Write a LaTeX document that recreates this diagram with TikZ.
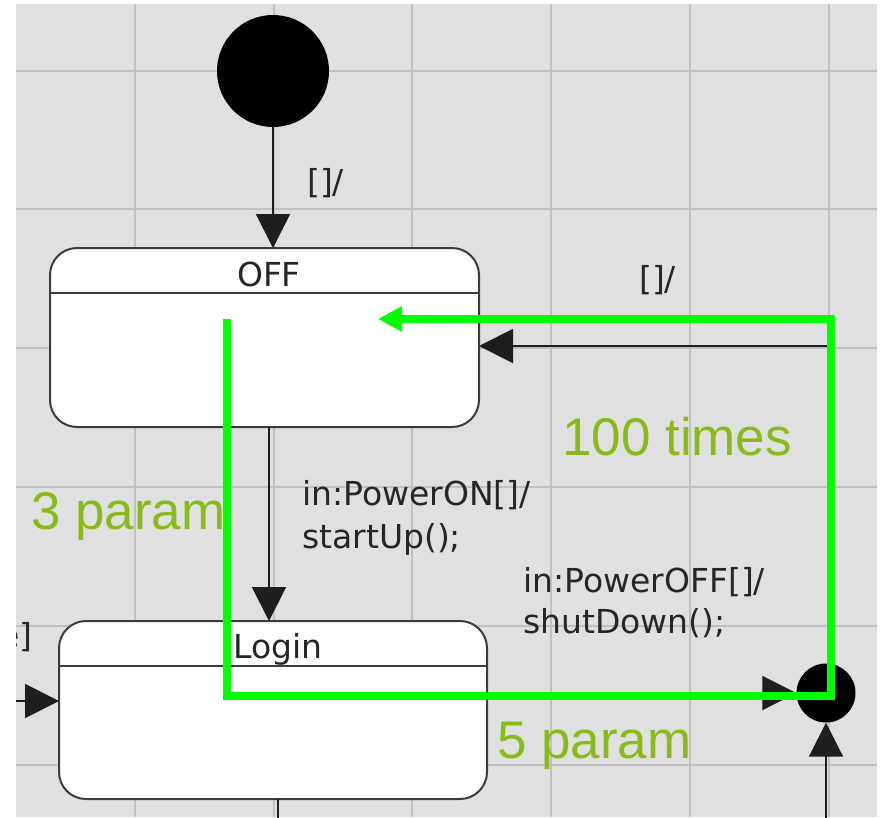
\documentclass[tikz,border=0pt]{standalone}
\usepackage{fontspec}
\setmainfont{DejaVu Sans}
\newfontfamily\notefont{Liberation Sans}
\usetikzlibrary{arrows.meta}
\definecolor{canvas}{RGB}{224,224,224}
\definecolor{gridline}{RGB}{192,192,192}
\definecolor{edge}{RGB}{30,30,30}
\definecolor{boxline}{RGB}{60,60,60}
\definecolor{trace}{RGB}{0,255,0}
\definecolor{notegreen}{RGB}{138,186,26}
\tikzset{
  statebox/.style={draw=boxline, line width=2pt, fill=white, rounded corners=27pt, inner sep=0pt},
  dot/.style={circle, fill=black, inner sep=0pt},
  trans/.style={draw=edge, line width=2pt, -{Triangle[length=34pt,width=34pt]}},
  plainline/.style={draw=edge, line width=2pt},
  lbl/.style={inner sep=0pt, font=\fontsize{33}{40}\selectfont, text=black!85},
  note/.style={inner sep=0pt, font=\notefont\fontsize{53}{62}\selectfont, text=notegreen},
  tracepath/.style={draw=trace, line width=8pt, line join=miter, -{Triangle[length=24pt,width=24pt]}}
}
\begin{document}
\begin{tikzpicture}[x=1pt,y=-1pt]
  \useasboundingbox (0,0) rectangle (881,817);
  \fill[white] (0,0) rectangle (881,817);
  \begin{scope}
    \clip (16,4) rectangle (877,817);
    \fill[canvas] (16,4) rectangle (877,817);
    % background grid
    \foreach \gx in {135,274,412,551,690,829}
      \draw[gridline, line width=1.6pt] (\gx,4) -- (\gx,817);
    \foreach \gy in {71,209,348,487,626,765}
      \draw[gridline, line width=1.6pt] (16,\gy) -- (877,\gy);

    % states
    \node[statebox, minimum width=429pt, minimum height=179pt] (off) at (264.5,337.5) {};
    \draw[boxline, line width=2pt] (50,293) -- (479,293);
    \node[lbl, anchor=base] (offname) at (269,286) {OFF};

    \node[statebox, minimum width=428pt, minimum height=178pt] (login) at (273,710) {};
    \draw[boxline, line width=2pt] (59,666) -- (487,666);
    \node[lbl, anchor=base west] (loginname) at (233,658) {Login};

    % pseudo states
    \node[dot, minimum size=112pt] (init) at (273,71) {};
    \node[dot, minimum size=59pt] (junc) at (826,693) {};

    % connector end points
    \coordinate (offin) at (273,248);
    \coordinate (offout) at (269,427);
    \coordinate (loginin) at (269,621);
    \coordinate (loginout) at (487,693);
    \coordinate (juncup) at (830,670);
    \coordinate (bend) at (830,346);
    \coordinate (offret) at (479,346);
    \coordinate (leftsrc) at (10,701);
    \coordinate (loginleft) at (59,701);
    \coordinate (bottomsrc) at (826,830);
    \coordinate (loginbottom) at (278,799);
    \coordinate (downend) at (278,830);

    % transitions
    \draw[trans] (init) -- (offin);
    \draw[trans] (offout) -- (loginin);
    \draw[trans] (loginout) -- (junc.west);
    \draw[trans] (juncup) -- (bend) -- (offret);
    \draw[trans] (bottomsrc) -- (junc.south);
    \draw[trans] (leftsrc) -- (loginleft);
    \draw[plainline] (loginbottom) -- (downend);

    % transition labels
    \node[lbl, anchor=base west] (tinit) at (307,193) {[]/};
    \node[lbl, anchor=base west] (tback) at (639,290) {[]/};
    \node[lbl, anchor=base west] (ton1) at (302,505) {in:PowerON[]/};
    \node[lbl, anchor=base west] (ton2) at (302,548) {startUp();};
    \node[lbl, anchor=base west] (toff1) at (523,592) {in:PowerOFF[]/};
    \node[lbl, anchor=base west] (toff2) at (523,633) {shutDown();};
    \node[lbl, anchor=base east] (tleft) at (33,647) {e]};

    % highlighted path
    \coordinate (p0) at (227,319);
    \coordinate (p1) at (227,696);
    \coordinate (p2) at (831,696);
    \coordinate (p3) at (831,319);
    \coordinate (p4) at (378,319);
    \draw[tracepath] (p0) -- (p1) -- (p2) -- (p3) -- (p4);

    % notes
    \node[note, anchor=base west] (n3) at (31,529) {3 param};
    \node[note, anchor=base west] (n100) at (562,455) {100 times};
    \node[note, anchor=base west] (n5) at (497,758) {5 param};
  \end{scope}
\end{tikzpicture}
\end{document}
